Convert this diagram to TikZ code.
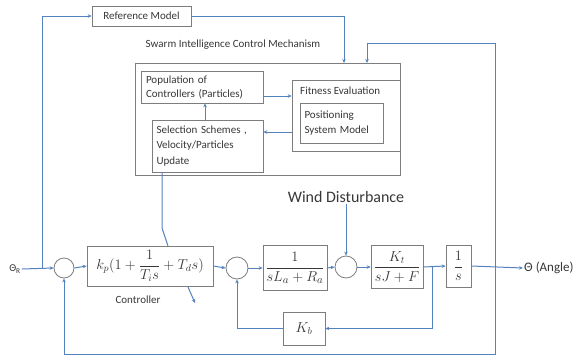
\documentclass[tikz,border=0pt]{standalone}
\usepackage{amsmath}
\usepackage{fontspec}
\setmainfont{Carlito}
\usetikzlibrary{arrows.meta}
\definecolor{lnblue}{RGB}{84,130,190}
\definecolor{boxgray}{RGB}{125,125,125}
\definecolor{txtgray}{RGB}{55,55,55}
\begin{document}
\begin{tikzpicture}[x=1pt,y=-1pt,
  conn/.style={draw=lnblue, line width=1pt, -{Stealth[length=4pt,width=3.5pt]}},
  plain/.style={draw=lnblue, line width=1pt},
  blk/.style={draw=boxgray, line width=0.7pt, fill=white, inner sep=0pt, text=txtgray},
  sumc/.style={circle, draw=boxgray, line width=0.8pt, inner sep=0pt, fill=white},
  lbl/.style={font=\fontsize{11}{13}\selectfont, text=txtgray, inner sep=0pt},
  mth/.style={font=\fontsize{14}{16}\selectfont},
]
\useasboundingbox (0,0) rectangle (580,356);

% ---- swarm part
\node[blk, minimum width=99pt, minimum height=20pt, font=\fontsize{11}{13}\selectfont] (ref) at (141.5,16) {Reference Model};
\node[lbl] (swlbl) at (233,45) {Swarm Intelligence Control Mechanism};
\node[blk, minimum width=265pt, minimum height=112pt] (swarm) at (267.5,119) {};
\node[blk, minimum width=122pt, minimum height=32pt, text width=112pt, align=left, font=\fontsize{11}{14}\selectfont] (pop) at (202,87) {Population of\\ Controllers (Particles)};
\node[blk, minimum width=108pt, minimum height=71pt] (fit) at (346,115.5) {};
\node[lbl, anchor=west] (fitlbl) at (300,91) {Fitness Evaluation};
\node[blk, minimum width=83pt, minimum height=40pt, text width=74pt, align=left, font=\fontsize{11}{15}\selectfont] (pos) at (341.5,123) {Positioning\\ System Model};
\node[blk, minimum width=111pt, minimum height=52pt, text width=102pt, align=left, font=\fontsize{11}{15.5}\selectfont] (sel) at (207.5,146) {Selection Schemes ,\\ Velocity/Particles\\ Update};

% ---- control loop
\node[text=txtgray, font=\fontsize{10.5}{12}\selectfont, inner sep=1pt] (thR) at (15,269) {Θ\textsubscript{R}};
\node[sumc, minimum size=20pt] (s1) at (64,268) {};
\node[blk, minimum width=126pt, minimum height=40pt, font=\fontsize{14.5}{16}\selectfont] (ctrl) at (150,266) {$k_p(1+\dfrac{1}{T_i s}+T_d s)$};
\node[lbl] (ctrllbl) at (138,300) {Controller};
\node[sumc, minimum size=22pt] (s2) at (237,268) {};
\node[blk, minimum width=64pt, minimum height=45pt, font=\fontsize{15}{17}\selectfont] (ga) at (295,268) {$\dfrac{1}{sL_a+R_a}$};
\node[sumc, minimum size=22pt] (s3) at (346,267) {};
\node[text=txtgray, font=\fontsize{16}{18}\selectfont, inner sep=1pt] (wind) at (346,197) {Wind Disturbance};
\node[blk, minimum width=52pt, minimum height=43pt, mth] (gb) at (397,267) {$\dfrac{K_t}{sJ+F}$};
\node[blk, minimum width=25pt, minimum height=42pt, mth] (gc) at (458.5,266) {$\dfrac{1}{s}$};
\node[blk, minimum width=42pt, minimum height=33pt, mth] (kb) at (304,328.5) {$K_b$};
\node[text=txtgray, font=\fontsize{13}{15}\selectfont, anchor=west, inner sep=1pt] (out) at (523,268) {Θ (Angle)};

% ---- coordinates
\coordinate (j1) at (42,268);
\coordinate (sw1) at (344,63);
\coordinate (sw2) at (367,63);
\coordinate (jout) at (495,267);
\coordinate (tr) at (495,43);
\coordinate (br) at (495,354);
\coordinate (br2) at (432,267);
\coordinate (selb) at (162,228);
\coordinate (ctin) at (168,246);
\coordinate (ctout1) at (188,287);
\coordinate (ctout2) at (195,303);

% ---- connectors swarm
\draw[conn] (j1) |- (ref.west);
\draw[conn] (ref.east) -| (sw1);
\draw[conn] (jout) -- (tr) -| (sw2);
\draw[conn] (pop.east |- 0,96) -- (fit.west |- 0,96);
\draw[conn] (fit.west |- 0,132) -- (sel.east |- 0,132);
\draw[conn] (sel.north -| 205,0) -- (pop.south -| 205,0);
\draw[plain] (sel.south -| selb) -- (selb) -- (ctin);
\draw[conn] (ctout1) -- (ctout2);

% ---- connectors loop
\draw[conn] (thR.east) -- (s1.west);
\draw[conn] (s1.east) -- (ctrl.west);
\draw[conn] (ctrl.east) -- (s2.west);
\draw[conn] (s2.east) -- (ga.west);
\draw[conn] (ga.east) -- (s3.west);
\draw[conn] (wind.south) -- (s3.north);
\draw[conn] (s3.east) -- (gb.west);
\draw[conn] (gb.east) -- (gc.west);
\draw[conn] (gc.east) -- (out.west);
\draw[conn] (br2) |- (kb.east);
\draw[conn] (kb.west) -| (s2.south);
\draw[conn] (jout) -- (br) -| (s1.south);
\end{tikzpicture}
\end{document}
